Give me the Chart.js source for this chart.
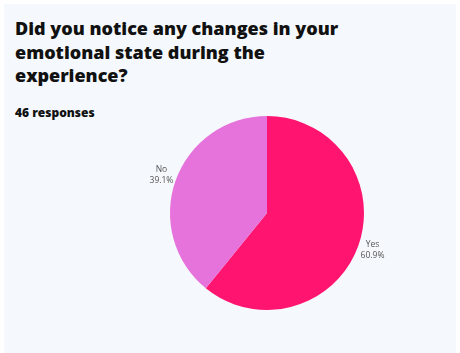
<!DOCTYPE html>
<html lang="en">
<head>
    <meta charset="UTF-8">
    <title>Emotional state</title>
    <script src="https://cdn.jsdelivr.net/npm/chart.js@4/dist/chart.umd.min.js"></script>
    <style>
        html, body { margin: 0; padding: 0; background: #ffffff; }
        body { width: 460px; height: 353px; position: relative; overflow: hidden; font-family: "Open Sans", sans-serif; }
        #card { position: absolute; left: 4px; top: 4px; width: 452px; height: 360px; background: #f5f9fd; }
        #title { position: absolute; left: 11px; top: 13px; margin: 0; font-size: 18px; font-weight: 800; line-height: 23.5px; color: #111; width: 340px; }
        #count { position: absolute; left: 11px; top: 100px; margin: 0; font-size: 12px; font-weight: 800; color: #111; }
        #wrap { position: absolute; left: 96px; top: 96px; width: 334px; height: 226px; }
    </style>
    <script>
        // answers to the question, counted from 46 responses
        var answers = ['Yes', 'No'];
        var counts = [28, 18];
        var colors = ['#ff1470', '#e673dc'];

        // prints "label / pct%" just outside each slice
        var outsideLabels = {
            id: 'outsideLabels',
            afterDatasetsDraw: function (chart) {
                var ctx = chart.ctx;
                var meta = chart.getDatasetMeta(0);
                var data = chart.data.datasets[0].data;
                var total = data.reduce(function (a, b) { return a + b; }, 0);
                ctx.save();
                ctx.font = '8.5px "Open Sans", sans-serif';
                ctx.fillStyle = '#555555';
                ctx.textAlign = 'center';
                ctx.textBaseline = 'middle';
                meta.data.forEach(function (arc, i) {
                    var p = arc.getProps(['x', 'y', 'startAngle', 'endAngle', 'outerRadius'], true);
                    var mid = (p.startAngle + p.endAngle) / 2;
                    var r = p.outerRadius + 15;
                    var x = p.x + Math.cos(mid) * r;
                    var y = p.y + Math.sin(mid) * r;
                    var pct = (data[i] / total * 100).toFixed(1) + '%';
                    ctx.fillText(chart.data.labels[i], x, y - 5.5);
                    ctx.fillText(pct, x, y + 5.5);
                });
                ctx.restore();
            }
        };

        window.onload = function () {
            var ctx = document.getElementById('pieChart');
            new Chart(ctx, {
                type: 'pie',
                data: {
                    labels: answers,
                    datasets: [{
                        data: counts,
                        backgroundColor: colors,
                        borderWidth: 0
                    }]
                },
                options: {
                    responsive: true,
                    maintainAspectRatio: false,
                    animation: false,
                    layout: { padding: 16 },
                    plugins: {
                        legend: { display: false },
                        tooltip: { enabled: false }
                    }
                },
                plugins: [outsideLabels]
            });
        };
    </script>
</head>
<body>
    <div id="card">
        <h1 id="title">Did you notice any changes in your emotional state during the experience?</h1>
        <p id="count">46 responses</p>
        <div id="wrap"><canvas id="pieChart"></canvas></div>
    </div>
</body>
</html>
